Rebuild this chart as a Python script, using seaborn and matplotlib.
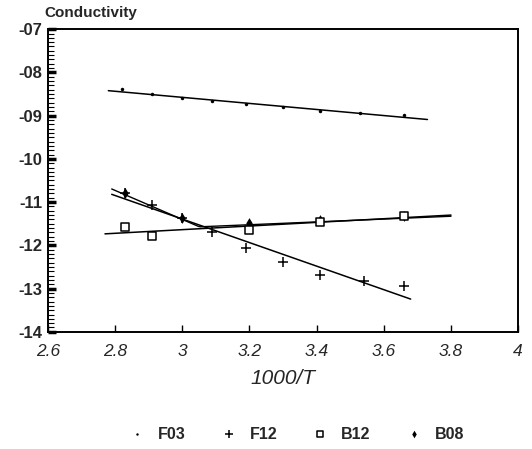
import numpy as np
import pandas as pd
import matplotlib
matplotlib.use('Agg')
import matplotlib.pyplot as plt
from matplotlib.ticker import MultipleLocator
import seaborn as sns

# measured points (1000/T, log conductivity)
f03_x = [2.82, 2.91, 3.00, 3.09, 3.19, 3.30, 3.41, 3.53, 3.66]
f03_y = [-8.39, -8.50, -8.60, -8.67, -8.74, -8.80, -8.90, -8.95, -8.98]

f12_x = [2.83, 2.91, 3.00, 3.09, 3.19, 3.30, 3.41, 3.54, 3.66]
f12_y = [-10.79, -11.06, -11.36, -11.69, -12.06, -12.38, -12.68, -12.82, -12.94]

b12_x = [2.83, 2.91, 3.20, 3.41, 3.66]
b12_y = [-11.57, -11.78, -11.64, -11.45, -11.32]

b08_x = [2.83, 3.00, 3.20, 3.41, 3.66]
b08_y = [-10.79, -11.36, -11.48, -11.42, -11.33]
b08_break = 3.1  # high-T and low-T branches fitted separately

# span over which each fitted line was drawn
fit_span = {'F03': (2.78, 3.73), 'F12': (2.79, 3.68), 'B12': (2.77, 3.80), 'B08': (2.79, 3.80)}

sns.set_style('ticks')
plt.rcParams['font.family'] = ['Liberation Sans', 'DejaVu Sans']

fig = plt.figure(figsize=(5.32, 4.49), dpi=100)
ax = fig.add_axes([0.090, 0.261, 0.884, 0.674])

# straight fits
for name, xs, ys in [('F03', f03_x, f03_y), ('F12', f12_x, f12_y), ('B12', b12_x, b12_y)]:
    coef = np.polyfit(xs, ys, 1)
    lx = np.linspace(fit_span[name][0], fit_span[name][1], 60)
    sns.lineplot(x=lx, y=np.polyval(coef, lx), color='black', linewidth=1.1, ax=ax)

# B08: two conduction regimes, curve follows the dominant one
bx = np.array(b08_x)
by = np.array(b08_y)
c_hi = np.polyfit(bx[bx < b08_break], by[bx < b08_break], 1)
c_lo = np.polyfit(bx[bx > b08_break], by[bx > b08_break], 1)
lx = np.linspace(fit_span['B08'][0], fit_span['B08'][1], 200)
ly = np.maximum(np.polyval(c_hi, lx), np.polyval(c_lo, lx))
sns.lineplot(x=lx, y=ly - 0.04, color='black', linewidth=1.0, ax=ax)

sns.scatterplot(x=f03_x, y=f03_y, marker='.', color='black', s=25, linewidth=0, label='F03', ax=ax)
sns.scatterplot(x=f12_x, y=f12_y, marker='+', color='black', s=60, linewidth=1.1, label='F12', ax=ax)
sns.scatterplot(x=b12_x, y=b12_y, marker='s', facecolor='white', edgecolor='black', s=28, linewidth=1.1,
                label='B12', ax=ax, zorder=4)
sns.scatterplot(x=b08_x, y=b08_y, marker='d', color='black', s=30, linewidth=0, label='B08', ax=ax, zorder=3)

ax.set_xlim(2.6, 4.0)
ax.set_ylim(-14, -7)
ax.yaxis.set_minor_locator(MultipleLocator(0.1))
ax.tick_params(axis='both', which='both', direction='in', color='black')
ax.tick_params(axis='y', which='major', length=6, width=2.5, pad=4)
ax.tick_params(axis='y', which='minor', length=4, width=0.8)
ax.tick_params(axis='x', which='major', length=5, width=1, pad=9)

xt = np.arange(2.6, 4.01, 0.2)
ax.set_xticks(xt)
ax.set_xticklabels(['%g' % round(v, 1) for v in xt], fontstyle='italic', fontsize=12.5)
yt = np.arange(-14, -6)
ax.set_yticks(yt)
ax.set_yticklabels(['-%02d' % abs(v) for v in yt], fontweight='bold', fontsize=12)

for s in ax.spines.values():
    s.set_linewidth(1.4)
    s.set_color('black')

ax.set_xlabel('1000/T', fontstyle='italic', fontsize=15, labelpad=7)
ax.set_ylabel('')
fig.text(0.083, 0.955, 'Conductivity', fontweight='bold', fontsize=11, ha='left', va='bottom')

handles, labels = ax.get_legend_handles_labels()
ax.get_legend().remove()
fig.legend(handles, labels, loc='center', bbox_to_anchor=(0.55, 0.033), ncol=4, frameon=False,
           prop={'weight': 'bold', 'size': 11.5}, handletextpad=0.3, columnspacing=1.7, markerscale=0.7)

fig.savefig('out.png', dpi=100, facecolor='white')
